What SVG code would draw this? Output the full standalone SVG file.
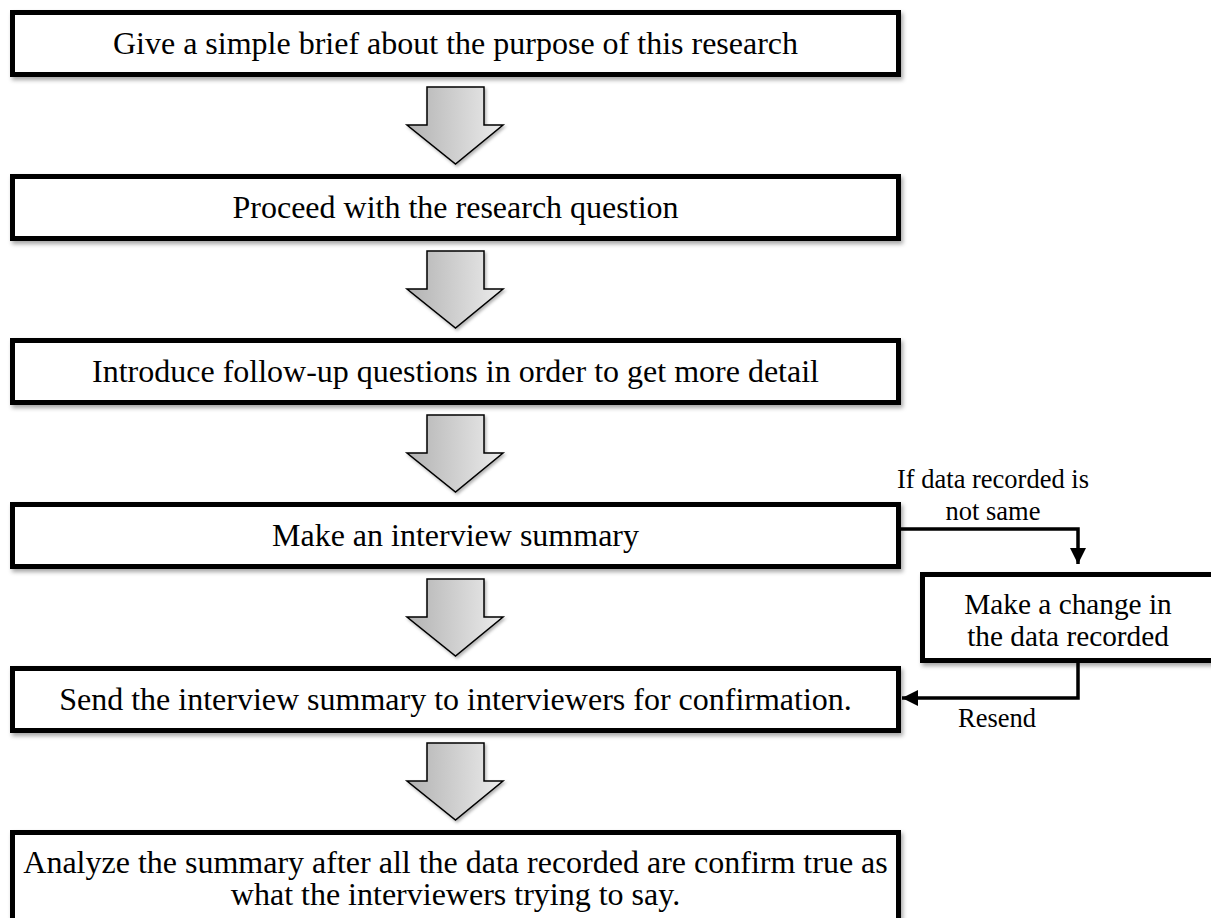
<svg xmlns="http://www.w3.org/2000/svg" xmlns:xlink="http://www.w3.org/1999/xlink" width="1211" height="918" viewBox="0 0 1211 918">
<style>
.box{fill:#fff;stroke:#000;stroke-width:5;filter:url(#sh)}
.t{font-family:"Liberation Serif","Times New Roman",serif;font-size:32px;fill:#000;text-anchor:middle}
.s{font-family:"Liberation Serif","Times New Roman",serif;font-size:26.5px;fill:#000;text-anchor:middle}
.m{font-family:"Liberation Serif","Times New Roman",serif;font-size:29.3px;fill:#000;text-anchor:middle}
.arr{fill:url(#g);stroke:#000;stroke-width:1.5;stroke-linejoin:miter;filter:url(#sh2)}
.con{fill:none;stroke:#000;stroke-width:3.5}
</style>
<defs>
<linearGradient id="g" x1="0" y1="0" x2="1" y2="0">
<stop offset="0" stop-color="#b2b2b2"/>
<stop offset="1" stop-color="#ececec"/>
</linearGradient>
<filter id="sh" x="-5%" y="-20%" width="110%" height="150%">
<feDropShadow dx="2" dy="3" stdDeviation="2" flood-color="#000" flood-opacity="0.35"/>
</filter>
<filter id="sh2" x="-20%" y="-20%" width="140%" height="140%">
<feDropShadow dx="1.5" dy="2" stdDeviation="1.5" flood-color="#000" flood-opacity="0.3"/>
</filter>
<path id="da" d="M427,87 H484 V125 H503 L455.5,164 L407,125 H427 Z"/>
<marker id="ah" markerUnits="userSpaceOnUse" markerWidth="18" markerHeight="18" refX="16" refY="8" orient="auto">
<path d="M0,0 L16,8 L0,16 Z" fill="#000"/>
</marker>
</defs>
<rect width="1211" height="918" fill="#fff"/>

<g id="arrows">
<use xlink:href="#da" class="arr"/>
<use xlink:href="#da" class="arr" y="164"/>
<use xlink:href="#da" class="arr" y="328"/>
<use xlink:href="#da" class="arr" y="492"/>
<use xlink:href="#da" class="arr" y="656"/>
</g>

<g id="connectors">
<path class="con" d="M901,529 H1078 V564" marker-end="url(#ah)"/>
<path class="con" d="M1078,663 V698 H902" marker-end="url(#ah)"/>
<text class="s" x="993" y="488">If data recorded is</text>
<text class="s" x="993" y="520">not same</text>
<text class="s" x="997" y="727">Resend</text>
</g>

<g id="n1">
<rect class="box" x="12.5" y="12.5" width="886" height="62"/>
<text class="t" x="455.5" y="54">Give a simple brief about the purpose of this research</text>
</g>
<g id="n2">
<rect class="box" x="12.5" y="176.5" width="886" height="62"/>
<text class="t" x="455.5" y="218">Proceed with the research question</text>
</g>
<g id="n3">
<rect class="box" x="12.5" y="340.5" width="886" height="62"/>
<text class="t" x="455.5" y="382">Introduce follow-up questions in order to get more detail</text>
</g>
<g id="n4">
<rect class="box" x="12.5" y="504.5" width="886" height="62"/>
<text class="t" x="455.5" y="546">Make an interview summary</text>
</g>
<g id="n5">
<rect class="box" x="12.5" y="668.5" width="886" height="62"/>
<text class="t" x="455.5" y="710">Send the interview summary to interviewers for confirmation.</text>
</g>
<g id="n6">
<rect class="box" x="12.5" y="832.5" width="886" height="100"/>
<text class="t" x="455.5" y="873">Analyze the summary after all the data recorded are confirm true as</text>
<text class="t" x="455.5" y="905">what the interviewers trying to say.</text>
</g>
<g id="n7">
<rect class="box" x="922.5" y="574.5" width="300" height="86"/>
<text class="m" x="1068" y="614">Make a change in</text>
<text class="m" x="1068" y="646">the data recorded</text>
</g>
</svg>
